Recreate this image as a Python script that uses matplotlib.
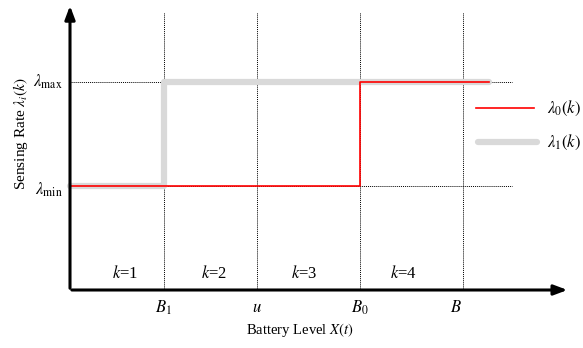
import matplotlib
matplotlib.use("Agg")
import matplotlib.pyplot as plt

plt.rcParams['font.family'] = ['Liberation Serif', 'DejaVu Serif']
plt.rcParams['mathtext.fontset'] = 'stix'

# Data (x in units of battery levels, y in rate units)
tick_pos = [1.0, 2.0, 3.1, 4.2]
tick_labels = [r'$B_1$', r'$u$', r'$B_0$', r'$B$']
lam_min, lam_max = 1.0, 2.0
x_end = 4.48
lam0_x = [0.0, 3.1, 3.1, x_end]
lam0_y = [lam_min, lam_min, lam_max, lam_max]
lam1_x = [0.0, 1.0, 1.0, x_end]
lam1_y = [lam_min, lam_min, lam_max, lam_max]
k_labels = [r'$k$=1', r'$k$=2', r'$k$=3', r'$k$=4']
k_pos = [0.59, 1.54, 2.51, 3.57]

px = 93.5  # pixels per x unit
py = 104.0  # pixels per y unit
fig = plt.figure(figsize=(5.83, 3.48), dpi=100)
ax = fig.add_axes([0, 0, 1, 1])
ax.set_xlim(-70 / px, (583 - 70) / px)
ax.set_ylim((290 - 348) / py, 290 / py)
ax.axis('off')

# grid dotted lines
for xp in tick_pos:
    ax.plot([xp, xp], [0, 2.67], color='black', lw=0.7, ls=(0, (1, 1)), zorder=1)
for yv in [lam_min, lam_max]:
    ax.plot([0, 4.73], [yv, yv], color='black', lw=0.7, ls=(0, (1, 1)), zorder=1)

# series
ax.plot(lam1_x, lam1_y, color='#d9d9d9', lw=4.5, solid_capstyle='round', zorder=2)
ax.plot(lam0_x, lam0_y, color='red', lw=1.2, zorder=3)

# axes with arrows
ax.annotate('', xy=(5.35, 0), xytext=(-0.01, 0),
            arrowprops=dict(arrowstyle='-|>,head_length=0.8,head_width=0.3', color='black', lw=2.2), zorder=4)
ax.annotate('', xy=(0, 2.76), xytext=(0, -0.01),
            arrowprops=dict(arrowstyle='-|>,head_length=0.8,head_width=0.3', color='black', lw=2.2), zorder=4)

# tick labels
for xp, lab in zip(tick_pos, tick_labels):
    dx = -0.07 if lab == r'$B$' else 0.0
    ax.text(xp + dx, -0.17, lab, ha='center', va='center', fontsize=12)
ax.text(2.46, -0.38, 'Battery Level $X(t)$', ha='center', va='center', fontsize=10.5)

ax.text(-0.08, lam_max, r'$\lambda_{\mathrm{max}}$', ha='right', va='center', fontsize=12)
ax.text(-0.08, lam_min - 0.04, r'$\lambda_{\mathrm{min}}$', ha='right', va='center', fontsize=12)
ax.text(-0.53, 1.5, r'Sensing Rate $\lambda_i(k)$', ha='center', va='center',
        rotation=90, fontsize=11)

for xp, lab in zip(k_pos, k_labels):
    ax.text(xp, 0.16, lab, ha='center', va='center', fontsize=12)

# legend
ax.plot([4.34, 4.96], [1.75, 1.75], color='red', lw=1.2)
ax.plot([4.36, 4.99], [1.42, 1.42], color='#d9d9d9', lw=4.5, solid_capstyle='round')
ax.text(5.1, 1.75, r'$\lambda_0(k)$', ha='left', va='center', fontsize=12)
ax.text(5.1, 1.42, r'$\lambda_1(k)$', ha='left', va='center', fontsize=12)

fig.savefig('out.png', dpi=100)
